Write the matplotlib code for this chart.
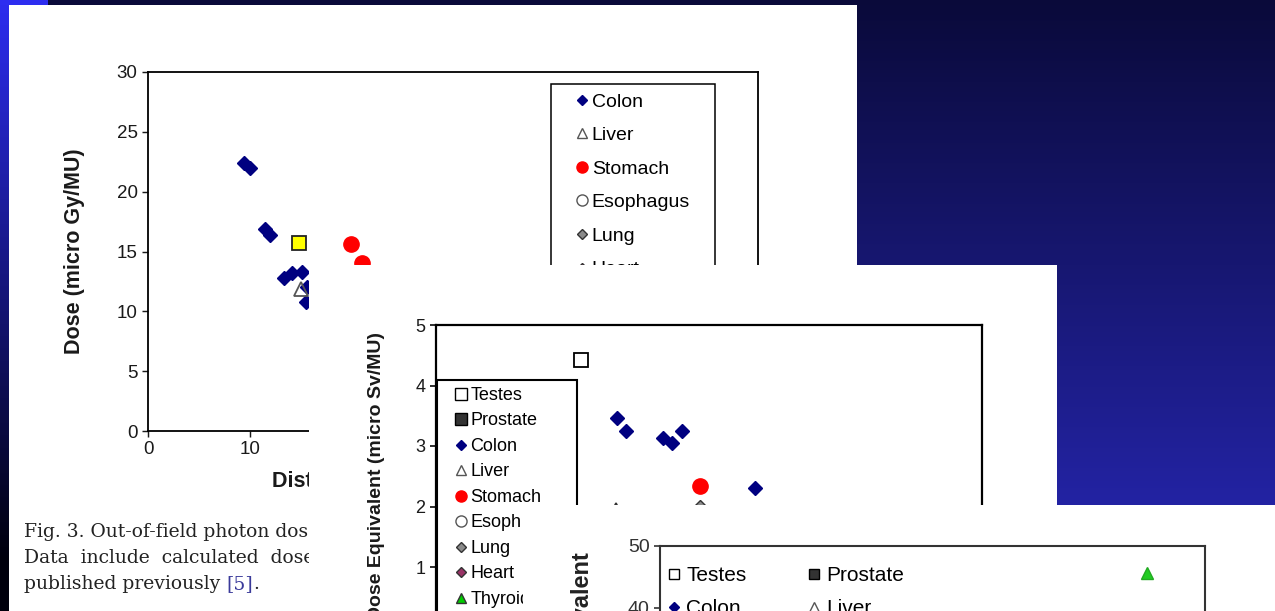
import numpy as np
import matplotlib
matplotlib.use("Agg")
import matplotlib.pyplot as plt
from matplotlib.lines import Line2D
from matplotlib.patches import Rectangle

W, H = 1275, 611
SANS = "Liberation Sans"

# --- chart 1: dose (micro Gy/MU) vs distance (cm) ---
colon1_x = [9.4, 10.0, 11.5, 12.0, 13.4, 14.2, 15.1, 15.5, 15.6]
colon1_y = [22.4, 22.0, 16.9, 16.4, 12.8, 13.2, 13.3, 10.8, 12.0]
liver1_x = [15.0]
liver1_y = [11.9]
stomach1_x = [20.0, 21.0]
stomach1_y = [15.6, 14.0]
yellow1_x = [14.9]
yellow1_y = [15.7]
x1_ticks = [0, 10, 20, 30, 40, 50, 60]
y1_ticks = [0, 5, 10, 15, 20, 25, 30]
legend1_labels = ["Colon", "Liver", "Stomach", "Esophagus", "Lung", "Heart"]

# --- chart 2: dose equivalent (micro Sv/MU) ---
testes2_x = [15.9]
testes2_y = [4.42]
colon2_x = [19.9, 20.9, 24.9, 25.9, 27.0, 35.0]
colon2_y = [3.46, 3.24, 3.13, 3.05, 3.24, 2.30]
liver2_x = [19.8]
liver2_y = [1.96]
stomach2_x = [29.0]
stomach2_y = [2.34]
lung2_x = [29.0]
lung2_y = [1.99]
y2_ticks = [0, 1, 2, 3, 4, 5]
legend2_labels = ["Testes", "Prostate", "Colon", "Liver", "Stomach",
                  "Esoph", "Lung", "Heart", "Thyroid"]

# --- chart 3: dose equivalent, bigger scale ---
thyroid3_x = [53.6]
thyroid3_y = [45.6]
y3_ticks = [0, 10, 20, 30, 40, 50]
legend3_labels = ["Testes", "Prostate", "Colon", "Liver"]

# marker, face, edge
STYLE = {
    "Testes": ("s", "white", "black"),
    "Prostate": ("s", "#333333", "black"),
    "Colon": ("D", "#000080", "#000080"),
    "Liver": ("^", "none", "#555555"),
    "Stomach": ("o", "#ff0000", "#ff0000"),
    "Esophagus": ("o", "none", "#555555"),
    "Esoph": ("o", "none", "#555555"),
    "Lung": ("D", "#8a8a8a", "#333333"),
    "Heart": ("D", "#993366", "#333333"),
    "Thyroid": ("^", "#00cc00", "#333333"),
}
LEG_MS = {"s": 8.0, "D": 5.0, "o": 8.0, "^": 7.5}


def fig_rect(x0, y0, x1, y1):
    # pixel box (top-left origin) -> figure fraction
    return [x0 / W, 1 - y1 / H, (x1 - x0) / W, (y1 - y0) / H]


def fp(x, y):
    return (x / W, 1 - y / H)


def handle(name, scale=1.0):
    m, fc, ec = STYLE[name]
    return Line2D([], [], marker=m, ls="none", ms=LEG_MS[m] * scale,
                  mfc=fc, mec=ec, mew=1.0)


def plain_panel(fig, box):
    ax = fig.add_axes(fig_rect(*box))
    ax.set_facecolor("white")
    ax.set_xticks([])
    ax.set_yticks([])
    for s in ax.spines.values():
        s.set_visible(False)
    return ax


def style_axes(ax, lw, fs, tcolor="#1a1a1a"):
    for s in ax.spines.values():
        s.set_linewidth(lw)
        s.set_color("black")
    ax.tick_params(direction="out", length=4.5, width=lw * 0.8,
                   labelsize=fs, colors=tcolor, pad=3)
    for lab in ax.get_xticklabels() + ax.get_yticklabels():
        lab.set_fontfamily(SANS)


fig = plt.figure(figsize=(W / 100, H / 100), dpi=100)

# --- slide background ---
bg = fig.add_axes([0, 0, 1, 1])
yy = np.linspace(0, 1, H)[:, None]
top = np.array([10, 10, 58]) / 255
bot = np.array([40, 40, 185]) / 255
img = np.ones((H, W, 3)) * (top + (bot - top) * yy)[:, None, :].reshape(H, 1, 3)
strip_top = np.array([45, 45, 240]) / 255
strip_bot = np.array([0, 0, 12]) / 255
t = np.clip(np.linspace(0, 611 / 560, H), 0, 1)[:, None]
img[:, :9, :] = (strip_top + (strip_bot - strip_top) * t)[:, None, :]
img[:5, :48, :] = strip_top
bg.imshow(img, extent=[0, W, H, 0], aspect="auto")
bg.set_axis_off()

# --- panel 1 ---
p1 = plain_panel(fig, (9, 5, 857, 611))
ax1 = fig.add_axes(fig_rect(148, 72, 758, 431))
ax1.plot(colon1_x, colon1_y, ls="none", marker="D", ms=7.5,
         mfc="#000080", mec="#000080")
ax1.plot(liver1_x, liver1_y, ls="none", marker="^", ms=9.5,
         mfc="none", mec="#555555", mew=1.3)
ax1.plot(yellow1_x, yellow1_y, ls="none", marker="s", ms=10.5,
         mfc="#ffff00", mec="#222222", mew=1.3)
ax1.plot(stomach1_x, stomach1_y, ls="none", marker="o", ms=11,
         mfc="#ff0000", mec="#ff0000")
ax1.set_xlim(0, 60)
ax1.set_ylim(0, 30)
ax1.set_xticks(x1_ticks)
ax1.set_yticks(y1_ticks)
style_axes(ax1, 1.3, 13.5)
ax1.set_ylabel("Dose (micro Gy/MU)", fontsize=15.5, fontweight="bold",
               fontfamily=SANS, color="#1a1a1a")
ax1.yaxis.set_label_coords((85 - 148) / 610, 0.5)
ax1.text(*fp(272, 481), "Distance from Field Edge (cm)", transform=fig.transFigure,
         ha="left", va="center", fontsize=15.5, fontweight="bold",
         fontfamily=SANS, color="#1a1a1a")
ax1.add_artist(Rectangle(fp(551, 300), 164 / W, (300 - 84) / H, fill=False,
                         ec="black", lw=1.1, transform=fig.transFigure,
                         clip_on=False))
ax1.legend([handle(n) for n in legend1_labels], legend1_labels,
           loc="upper left", bbox_to_anchor=fp(575, 93),
           bbox_transform=fig.transFigure, frameon=False, borderpad=0,
           borderaxespad=0, handlelength=0.7, handletextpad=0.16,
           labelspacing=0.82, prop={"family": SANS, "size": 14})

# caption (serif, partly hidden by the second panel)
cap_kw = dict(transform=fig.transFigure, ha="left", va="center",
              fontsize=13.5, fontfamily="DejaVu Serif", color="#222222")
p1.text(*fp(24, 532), "Fig. 3. Out-of-field photon dose as a function of distance from the field edge.", **cap_kw)
p1.text(*fp(24, 558), "Data  include  calculated  doses  for  organs  outside  the  treatment  field  and  measured  doses", **cap_kw)
c3 = p1.text(*fp(24, 584), "published previously ", **cap_kw)
c4 = p1.annotate("[5]", xy=(1, 0), xycoords=c3, va="bottom", ha="left",
                 fontsize=13.5, fontfamily="DejaVu Serif", color="#3a3a9a")
p1.annotate(".", xy=(1, 0), xycoords=c4, va="bottom", ha="left",
            fontsize=13.5, fontfamily="DejaVu Serif", color="#222222")

# --- panel 2 ---
plain_panel(fig, (309, 265, 1057, 611))
ax2 = fig.add_axes(fig_rect(436, 325, 982, 627.5))
ax2.plot(testes2_x, testes2_y, ls="none", marker="s", ms=9.5,
         mfc="white", mec="black", mew=1.3)
ax2.plot(colon2_x, colon2_y, ls="none", marker="D", ms=7.5,
         mfc="#000080", mec="#000080")
ax2.plot(liver2_x, liver2_y, ls="none", marker="^", ms=9,
         mfc="none", mec="#333333", mew=1.2)
ax2.plot(stomach2_x, stomach2_y, ls="none", marker="o", ms=11,
         mfc="#ff0000", mec="#ff0000")
ax2.plot(lung2_x, lung2_y, ls="none", marker="D", ms=7.5,
         mfc="#8a8a8a", mec="#333333")
ax2.set_xlim(0, 60)
ax2.set_ylim(0, 5)
ax2.set_yticks(y2_ticks)
ax2.set_xticks([])
style_axes(ax2, 1.6, 13)
ax2.set_ylabel("Dose Equivalent (micro Sv/MU)", fontsize=14, fontweight="bold",
               fontfamily=SANS, color="#1a1a1a")
ax2.yaxis.set_label_coords((385 - 436) / 546, 0.5)
ax2.add_artist(Rectangle(fp(437, 700), 140 / W, (700 - 380) / H, fill=False,
                         ec="black", lw=1.5, transform=fig.transFigure,
                         clip_on=False))
ax2.legend([handle(n) for n in legend2_labels], legend2_labels,
           loc="upper left", bbox_to_anchor=fp(455, 387),
           bbox_transform=fig.transFigure, frameon=False, borderpad=0,
           borderaxespad=0, handlelength=0.7, handletextpad=0.15,
           labelspacing=0.47, prop={"family": SANS, "size": 13})

# --- panel 3 ---
plain_panel(fig, (523, 505, 1275, 611))
ax3 = fig.add_axes(fig_rect(660, 546, 1205, 853.5))
ax3.plot(thyroid3_x, thyroid3_y, ls="none", marker="^", ms=9,
         mfc="#22cc22", mec="#22aa22")
ax3.set_xlim(0, 60)
ax3.set_ylim(0, 50)
ax3.set_yticks(y3_ticks)
ax3.set_xticks([])
style_axes(ax3, 1.5, 14, tcolor="#333333")
for s in ax3.spines.values():
    s.set_color("#333333")
ax3.text(*fp(582, 552), "Dose Equivalent", transform=fig.transFigure,
         rotation=90, ha="center", va="top", fontsize=17, fontweight="bold",
         fontfamily=SANS, color="#222222")
order3 = legend3_labels[0::2] + legend3_labels[1::2]
ax3.legend([handle(n, 0.95) for n in order3], order3, ncol=2,
           loc="upper left", bbox_to_anchor=fp(667, 566),
           bbox_transform=fig.transFigure, frameon=False, borderpad=0,
           borderaxespad=0, handlelength=0.7, handletextpad=0.23,
           labelspacing=0.67, columnspacing=2.9,
           prop={"family": SANS, "size": 15})

fig.savefig("out.png", dpi=100)
